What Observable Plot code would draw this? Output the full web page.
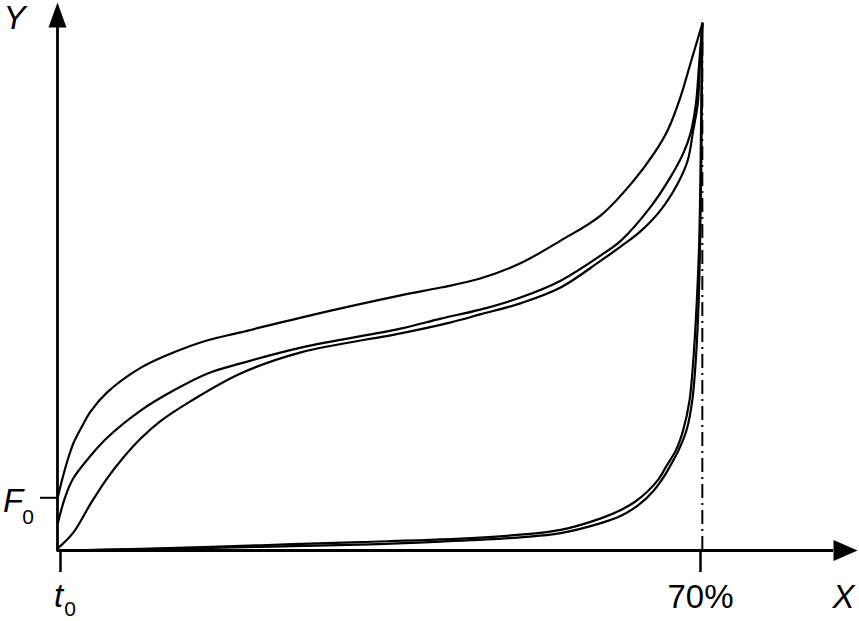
<!DOCTYPE html>
<html>
<head>
<meta charset="utf-8">
<script src="https://cdn.jsdelivr.net/npm/d3@7"></script>
<script src="https://cdn.jsdelivr.net/npm/@observablehq/plot@0.6"></script>
<style>
  html, body { margin: 0; padding: 0; background: #fff; }
  #chart svg { display: block; }
</style>
</head>
<body>
<div id="chart"></div>
<script>
// ---- data (x in %, y in relative force units) ----
const F0 = 10;
const xTicks = [0, 70];
const xTickLabel = "70%";

const loadUpper = [[-0.3,10],[0.1,12.9],[0.7,16.7],[1.4,20.3],[2.4,23.7],[3.3,26.4],[5.1,30],[8.8,34.7],[12.4,37.6],[16.1,39.9],[19.7,41.4],[26.3,44.2],[37.2,48.4],[41.6,49.9],[45.9,51.6],[50.3,54.5],[54.7,58.8],[59.1,63.6],[62.7,70.2],[64.9,75.3],[66.4,79.7],[67.8,86],[68.9,92.4],[70.2,100]];
const loadMiddle = [[-0.3,5.1],[0.5,10.1],[1.4,13.7],[3.3,18],[5.1,21.4],[8.8,26.6],[12.4,30.4],[16.1,33.6],[19.7,35.5],[26.3,38.5],[37.2,42.1],[41.6,44],[45.9,45.7],[50.3,48],[54.7,51.2],[59.1,56],[61.3,58.8],[64.5,65.1],[66.7,70.8],[68.1,75.3],[68.9,79.1],[69.5,84.8],[69.8,91.1],[70.05,96.8],[70.2,100]];
const loadLower = [[-0.3,0.4],[1.4,3.4],[3.3,8.9],[5.1,13.7],[6.9,17.7],[8.8,21.3],[10.9,24.5],[14.2,28.3],[19.7,33.6],[26.3,37.6],[37.2,41.2],[42.7,43.3],[45.9,44.8],[50.3,46.9],[54.7,49.9],[59.1,55],[61.3,57.7],[63.4,60.5],[65.6,64.5],[67.5,69.6],[68.6,74],[69.2,79.7],[69.7,84.8],[69.9,91.1],[70.2,100]];
const unloadOuter = [[70.2,100],[70.15,88],[70.08,72],[69.95,58],[69.8,47.4],[69.5,36.5],[69.1,28.5],[68.5,23],[67.6,19],[66.7,16.1],[66,14],[64.8,11.2],[63.2,8.6],[61.3,6.6],[59.1,5.2],[54.7,3.3],[50.3,2.5],[41.6,1.7],[32.8,1.1],[21.9,0.7],[10.9,0.3],[0,0]];
const unloadInner = [[70.2,100],[70.1,86],[70.0,72],[69.85,58],[69.6,47.4],[69.25,37],[68.8,28.5],[68.1,22.8],[67.3,19],[66.3,16.1],[65.4,13.5],[64.2,11.2],[62.8,9.2],[61.3,7.7],[59.1,6.1],[54.7,3.9],[50.3,3],[41.6,2.1],[32.8,1.6],[21.9,1],[10.9,0.4],[0,0]];
const limitX = 70.2;   // dash-dot limit line

// ---- axis geometry (not data) ----
const AXIS_X0 = -0.33, AXIS_X_END = 84.55, AXIS_Y_END = 99.24;
const FONT = "'Liberation Sans', Arial, Helvetica, sans-serif";

const arrowUp = {draw(ctx) { ctx.moveTo(0, -25); ctx.lineTo(9, 0); ctx.lineTo(-9, 0); ctx.closePath(); }};
const arrowRight = {draw(ctx) { ctx.moveTo(24, 0); ctx.lineTo(0, -10.5); ctx.lineTo(0, 10.5); ctx.closePath(); }};

const curves = [loadUpper, loadMiddle, loadLower, unloadOuter, unloadInner];
const px = d => d[0], py = d => d[1];
const label = (txt, o) => Plot.text([txt], {text: d => d, fill: "black", fontFamily: FONT, ...o});

const chart = Plot.plot({
  width: 859, height: 621,
  marginLeft: 60, marginRight: 159, marginTop: 23, marginBottom: 71,
  x: {domain: [0, 70]},
  y: {domain: [0, 100]},
  style: {background: "white", fontFamily: FONT},
  marks: [
    // axes with arrowheads
    Plot.ruleY([0], {x1: AXIS_X0, x2: AXIS_X_END, stroke: "black", strokeWidth: 2.8}),
    Plot.ruleX([AXIS_X0], {y1: -0.3, y2: AXIS_Y_END, stroke: "black", strokeWidth: 2.8}),
    Plot.dot([[AXIS_X0, AXIS_Y_END]], {x: px, y: py, symbol: arrowUp, fill: "black", r: 10}),
    Plot.dot([[AXIS_X_END, 0]], {x: px, y: py, symbol: arrowRight, fill: "black", r: 10}),
    // ticks
    Plot.axisX(xTicks, {anchor: "bottom", tickSize: 22, tickFormat: () => "", label: null, strokeWidth: 2.5}),
    Plot.axisY([F0], {anchor: "left", tickSize: 17, tickFormat: () => "", label: null, strokeWidth: 2, dx: -3}),
    // dash-dot limit line
    Plot.ruleX([limitX], {y1: 0, y2: 97, stroke: "black", strokeWidth: 2, strokeDasharray: "14,5,2,5"}),
    // curves
    ...curves.map(c => Plot.line(c, {x: px, y: py, curve: "catmull-rom", stroke: "black", strokeWidth: 2.2})),
    // labels
    label("Y", {x: AXIS_X0, y: AXIS_Y_END, dx: -43, dy: -8.6, fontSize: 33, fontStyle: "italic"}),
    label("X", {x: AXIS_X_END, y: 0, dx: 10, dy: 47.4, fontSize: 33, fontStyle: "italic"}),
    label(xTickLabel, {x: 70, y: 0, dx: 0, dy: 47.4, fontSize: 33}),
    label("F", {x: 0, y: F0, dx: -47.5, dy: 4, fontSize: 33, fontStyle: "italic"}),
    label("0", {x: 0, y: F0, dx: -32.5, dy: 19, fontSize: 21}),
    label("t", {x: 0, y: 0, dx: -2, dy: 46, fontSize: 33, fontStyle: "italic"}),
    label("0", {x: 0, y: 0, dx: 9.5, dy: 58.5, fontSize: 21})
  ]
});
document.getElementById("chart").appendChild(chart);
</script>
</body>
</html>
